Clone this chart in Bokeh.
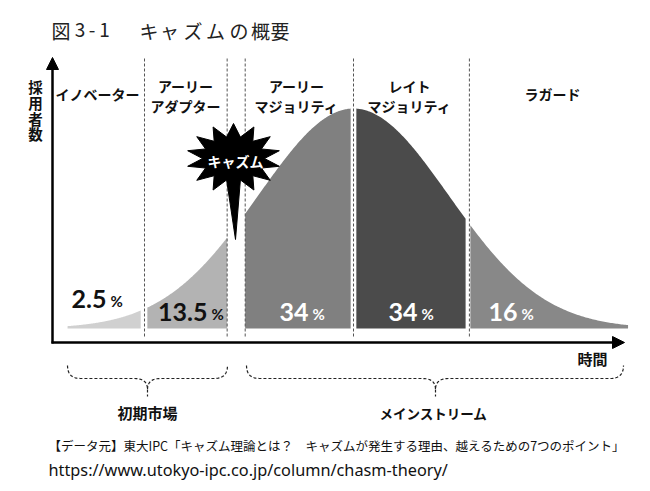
import numpy as np
from bokeh.plotting import figure
from bokeh.models import Range1d, Label, Arrow, NormalHead
from bokeh.embed import file_html
from bokeh.resources import INLINE

# ---------------- data ----------------
title_chars = ["図", "3", "-", "1", "キ", "ャ", "ズ", "ム", "の", "概", "要"]
y_label_chars = ["採", "用", "者", "数"]
x_label = "時間"
segment_label_lines = [["イノベーター"], ["アーリー", "アダプター"], ["アーリー", "マジョリティ"],
                       ["レイト", "マジョリティ"], ["ラガード"]]
share_values = ["2.5", "13.5", "34", "34", "16"]
# extent of each adopter group along the time axis (in standard deviations from the mean)
seg_start = [-3.01, -2.17, -1.14, 0.03, 1.23]
seg_end = [-2.24, -1.33, -0.03, 1.18, 2.89]
dividers = [-2.2, -1.33, -1.14, 0.0, 1.22]
chasm_label = "キャズム"
market_labels = ["初期市場", "メインストリーム"]
source_lines = ["【データ元】東大IPC「キャズム理論とは？　キャズムが発生する理由、越えるための7つのポイント」",
                "https://www.utokyo-ipc.co.jp/column/chasm-theory/"]

# ---------------- styles / layout ----------------
W, H = 650, 491
CX, SD_PX, BASE, PEAK_PX = 353.0, 95.0, 328.0, 220.0
seg_colors = ["#d0d0d0", "#b3b3b3", "#808080", "#4b4b4b", "#888888"]
share_colors = ["#111111", "#111111", "#ffffff", "#ffffff", "#ffffff"]
CJK = "Noto Sans CJK JP"
NUM = "Lato"


def X(px):
    return (np.asarray(px, dtype=float) - CX) / SD_PX


def Y(py):
    return (BASE - np.asarray(py, dtype=float)) / PEAK_PX


p = figure(width=W, height=H, x_range=Range1d(float(X(0)), float(X(W))),
           y_range=Range1d(float(Y(H)), float(Y(0))), output_backend="svg",
           toolbar_location=None, min_border=0, x_axis_type=None, y_axis_type=None)
p.grid.visible = False
p.outline_line_color = None
p.background_fill_color = "white"
p.border_fill_color = "white"

# bell curve segments
for s, e, c in zip(seg_start, seg_end, seg_colors):
    z = np.linspace(s, e, 120)
    p.varea(x=z, y1=np.zeros_like(z), y2=np.exp(-z ** 2 / 2), fill_color=c)

# dashed dividers
p.segment(x0=dividers, y0=[float(Y(336))] * len(dividers), x1=dividers, y1=[float(Y(58))] * len(dividers),
          line_dash="3 2", line_color="#555555", line_width=1)

# axes arrows
p.add_layout(Arrow(end=NormalHead(size=12, fill_color="black", line_color="black"),
                   x_start=float(X(52)), y_start=float(Y(343)), x_end=float(X(52)), y_end=float(Y(57)),
                   line_width=2.5, line_color="black"))
p.add_layout(Arrow(end=NormalHead(size=12, fill_color="black", line_color="black"),
                   x_start=float(X(51)), y_start=float(Y(342)), x_end=float(X(624)), y_end=float(Y(342)),
                   line_width=2.5, line_color="black"))

# chasm starburst
n = 14
scx, scy = 233.0, 158.0
sx, sy = [], []
for i in range(2 * n):
    ang = np.pi / 2 - i * np.pi / n
    if i == n:  # bottom point -> long spike
        sx.append(235.0); sy.append(239.0)
        continue
    rx, ry = (47, 35) if i % 2 == 0 else (31, 22)
    sx.append(scx + rx * np.cos(ang)); sy.append(scy - ry * np.sin(ang))
p.patch(X(sx), Y(sy), fill_color="black", line_color="black")


def lab(t, px, py, size, color="#111111", style="bold", font=CJK, align="center", baseline="middle"):
    p.add_layout(Label(x=float(X(px)), y=float(Y(py)), text=t, text_font=font,
                       text_font_size=f"{size}px", text_font_style=style, text_color=color,
                       text_align=align, text_baseline=baseline))


lab(chasm_label, 235, 160, 14, color="white")

# title
title_x = [60.5, 79.5, 91.5, 104, 148.5, 169, 192.5, 215, 238.5, 260, 279.5]
for ch, tx in zip(title_chars, title_x):
    lab(ch, tx, 29.5, 19, color="#222222", style="normal")

# y label
for ch, ty in zip(y_label_chars, [86, 102, 117.5, 133]):
    lab(ch, 35, ty, 14.5)

lab(x_label, 592, 358, 15)

# segment labels
seg_lab_x = [97, 185, 296, 409, 552]
for lines, lx in zip(segment_label_lines, seg_lab_x):
    ys = [93] if len(lines) == 1 else [85, 105]
    for t, ly in zip(lines, ys):
        lab(t, lx, ly, 14)

# share labels
num_right = [106, 207, 308, 417, 517]
num_mid = [298.5, 311.5, 311.5, 311.5, 311.5]
for v, r, m, c in zip(share_values, num_right, num_mid, share_colors):
    lab(v, r, m, 25, color=c, font=NUM, align="right")
    lab("%", r + 4, m + 1.5, 15, color=c, font=NUM, align="left")


# braces
def quad(p0, c, p1, m=14):
    t = np.linspace(0, 1, m)
    return ((1 - t) ** 2 * p0[0] + 2 * (1 - t) * t * c[0] + t ** 2 * p1[0],
            (1 - t) ** 2 * p0[1] + 2 * (1 - t) * t * c[1] + t ** 2 * p1[1])


def brace(x0, x1, xm, ytop=365, ymid=378, ycusp=389, ytip=396, r=13):
    parts = [quad((x0, ytop), (x0, ymid), (x0 + r, ymid)),
             quad((x0 + r, ymid), ((x0 + xm) / 2, ymid), (xm - r, ymid), 2),
             quad((xm - r, ymid), (xm, ymid), (xm, ycusp)),
             quad((xm, ycusp), (xm, ymid), (xm + r, ymid)),
             quad((xm + r, ymid), ((xm + x1) / 2, ymid), (x1 - r, ymid), 2),
             quad((x1 - r, ymid), (x1, ymid), (x1, ytop))]
    bx = np.concatenate([q[0] for q in parts])
    by = np.concatenate([q[1] for q in parts])
    p.line(X(bx), Y(by), line_dash="3 2", line_color="#222222", line_width=1.2)
    p.line(X([xm, xm]), Y([ycusp, ytip]), line_dash="3 2", line_color="#222222", line_width=1.2)


brace(67, 227, 147)
brace(246, 623, 435)
lab(market_labels[0], 147, 412, 15)
lab(market_labels[1], 433, 412, 13.5)

# source
lab(source_lines[0], 48, 445, 12.5, color="#111111", style="normal", align="left")
lab(source_lines[1], 48, 469, 16.3, color="#111111", style="normal", font="Noto Sans", align="left")

open("out.html", "w").write(file_html(p, INLINE))
